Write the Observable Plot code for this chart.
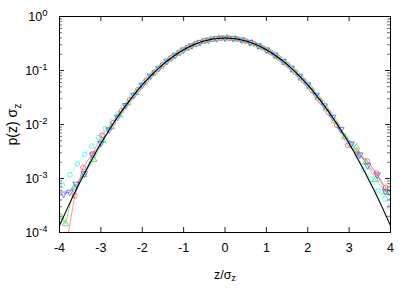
<!DOCTYPE html>
<html><head><meta charset="utf-8">
<script src="https://cdn.jsdelivr.net/npm/d3@7"></script>
<script src="https://cdn.jsdelivr.net/npm/@observablehq/plot@0.6"></script>
<style>body{margin:0;background:#fff}</style>
</head><body><div id="chart"></div>
<script>
// Gaussian reference curve (black)
const zCurve = [-4,-3.8,-3.6,-3.4,-3.2,-3,-2.8,-2.6,-2.4,-2.2,-2,-1.8,-1.6,-1.4,-1.2,-1,-0.8,-0.6,-0.4,-0.2,0,
  0.2,0.4,0.6,0.8,1,1.2,1.4,1.6,1.8,2,2.2,2.4,2.6,2.8,3,3.2,3.4,3.6,3.8,4];
const pCurve = [1.34e-4,2.92e-4,6.12e-4,1.23e-3,2.38e-3,4.43e-3,7.92e-3,0.0136,0.0224,0.0355,0.0540,0.0790,0.1109,0.1497,0.1942,0.2420,0.2897,0.3332,0.3683,0.3910,0.3989,
  0.3910,0.3683,0.3332,0.2897,0.2420,0.1942,0.1497,0.1109,0.0790,0.0540,0.0355,0.0224,0.0136,7.92e-3,4.43e-3,2.38e-3,1.23e-3,6.12e-4,2.92e-4,1.34e-4];

// red circles
const zRed = [-3.83,-3.63,-3.43,-3.2,-2.97,-2.7,-2.5,-2.3,-2.1,-1.9,-1.7,-1.5,-1.3,-1.1,-0.9,-0.7,-0.5,-0.3,-0.1,
  0.1,0.3,0.5,0.7,0.9,1.1,1.3,1.5,1.7,1.9,2.1,2.3,2.5,2.7,2.97,3.2,3.44,3.66,3.88,4.1];
const pRed = [6.3e-5,4.8e-4,1.6e-3,2.9e-3,6.3e-3,0.0108,0.0180,0.0290,0.0445,0.0660,0.0935,0.1300,0.1720,0.2175,0.2665,0.3120,0.3525,0.3810,0.3975,
  0.3965,0.3815,0.3520,0.3125,0.2660,0.2170,0.1710,0.1290,0.0935,0.0650,0.0430,0.0275,0.0168,0.0097,4.1e-3,2.95e-3,2.1e-3,1.26e-3,6.8e-4,5.5e-4];

// green triangles
const zGreen = [-3.97,-3.855,-3.64,-3.41,-3.17,-2.95,-2.75,-2.55,-2.35,-2.15,-1.95,-1.75,-1.55,-1.35,-1.15,-0.95,-0.75,-0.55,-0.35,-0.15,
  0.05,0.25,0.45,0.65,0.85,1.05,1.25,1.45,1.65,1.85,2.05,2.25,2.45,2.65,2.9,3.18,3.4,3.64,3.88,4.05];
const pGreen = [1.95e-4,1.45e-4,6.9e-4,1.17e-3,2.24e-3,5.0e-3,8.9e-3,0.0150,0.0250,0.0392,0.0600,0.0870,0.1190,0.1610,0.2050,0.2545,0.3000,0.3435,0.3745,0.3950,
  0.3980,0.3870,0.3600,0.3235,0.2770,0.2305,0.1820,0.1400,0.1015,0.0715,0.0495,0.0312,0.0195,0.0117,5.9e-3,3.8e-3,2.0e-3,9.5e-4,5.6e-4,4.5e-4];

// cyan circles
const zCyan = [-3.936,-3.75,-3.57,-3.39,-3.22,-3.05,-2.89,-2.73,-2.58,-2.45,-2.25,-2.05,-1.85,-1.65,-1.45,-1.25,-1.05,-0.85,-0.65,-0.45,-0.25,-0.05,
  0.15,0.35,0.55,0.75,0.95,1.15,1.35,1.55,1.75,1.95,2.15,2.35,2.55,2.75,3.05,3.2,3.35,3.52,3.7,3.87,3.99];
const pCyan = [7.6e-4,1.17e-3,1.86e-3,2.78e-3,3.98e-3,5.75e-3,8.3e-3,0.0115,0.0158,0.0205,0.0325,0.0495,0.0730,0.1030,0.1400,0.1830,0.2300,0.2785,0.3235,0.3610,0.3880,0.3995,
  0.3955,0.3760,0.3430,0.3015,0.2540,0.2055,0.1600,0.1195,0.0860,0.0595,0.0398,0.0255,0.0155,0.0091,4.3e-3,2.6e-3,1.45e-3,9.5e-4,5.9e-4,4.2e-4,2.95e-4];

// blue down-triangles
const zBlue = [-3.9,-3.75,-3.6,-3.4,-3.2,-3,-2.8,-2.6,-2.4,-2.2,-2,-1.8,-1.6,-1.4,-1.2,-1,-0.8,-0.6,-0.4,-0.2,0,
  0.2,0.4,0.6,0.8,1,1.2,1.4,1.6,1.8,2,2.2,2.4,2.6,2.8,3.05,3.26,3.45,3.68,3.88,4.05];
const pBlue = [5.2e-4,5.6e-4,7.9e-4,1.23e-3,2.75e-3,4.5e-3,0.0080,0.0137,0.0226,0.0352,0.0540,0.0795,0.1105,0.1500,0.1935,0.2425,0.2890,0.3340,0.3680,0.3915,0.3985,
  0.3905,0.3690,0.3325,0.2900,0.2415,0.1945,0.1490,0.1110,0.0785,0.0545,0.0350,0.0222,0.0137,0.0081,4.4e-3,2.75e-3,1.74e-3,1.17e-3,5.75e-4,5.5e-4];

const xTicks = [-4,-3,-2,-1,0,1,2,3,4];
const yTicks = [1e-4,1e-3,1e-2,1e-1,1];
const yTickExp = ["-4","-3","-2","-1","0"];
const xLabel = "z/σ_z";
const yLabel = "p(z) σ_z";

const W = 415, H = 291, mL = 59, mR = 25, mT = 16, mB = 59;
const iw = W - mL - mR, ih = H - mT - mB;

const yMinor = [];
for (let k = 0; k < yTicks.length - 1; k++) for (let m = 2; m <= 9; m++) yMinor.push(yTicks[k] * m);

const downTriangle = {
  draw(ctx, size) {
    const s = Math.sqrt(size * 4 / Math.sqrt(3)), h = s * Math.sqrt(3) / 2;
    ctx.moveTo(0, 2 * h / 3); ctx.lineTo(-s / 2, -h / 3); ctx.lineTo(s / 2, -h / 3); ctx.closePath();
  }
};

const rows = (z, p) => z.map((d, i) => ({z: d, p: p[i]}));
const series = [
  {data: rows(zCyan, pCyan), color: "#44eef2", symbol: "circle", dash: "1.5,1.5"},
  {data: rows(zGreen, pGreen), color: "#33dd33", symbol: "triangle", dash: null},
  {data: rows(zBlue, pBlue), color: "#4444ff", symbol: downTriangle, dash: "3,1.5"},
  {data: rows(zRed, pRed), color: "#ff4444", symbol: "circle", dash: null}
];
const curve = rows(zCurve, pCurve);

const marks = [];
for (const s of series) {
  marks.push(Plot.line(s.data, {x: "z", y: "p", stroke: s.color, strokeWidth: 0.6, strokeDasharray: s.dash, clip: true}));
}
for (const s of series) {
  marks.push(Plot.dot(s.data, {x: "z", y: "p", stroke: s.color, symbol: s.symbol, r: 2.4, strokeWidth: 0.7, fill: "none", clip: true}));
}
marks.push(Plot.line(curve, {x: "z", y: "p", stroke: "#000", strokeWidth: 1.1, curve: "natural", clip: true}));
// inward ticks on all four sides
marks.push(
  Plot.ruleX(xTicks, {x: d => d, insetTop: ih - 5, stroke: "#222", strokeWidth: 1}),
  Plot.ruleX(xTicks, {x: d => d, insetBottom: ih - 5, stroke: "#222", strokeWidth: 1}),
  Plot.ruleY(yTicks, {y: d => d, insetRight: iw - 5, stroke: "#222", strokeWidth: 1}),
  Plot.ruleY(yTicks, {y: d => d, insetLeft: iw - 5, stroke: "#222", strokeWidth: 1}),
  Plot.ruleY(yMinor, {y: d => d, insetRight: iw - 3, stroke: "#444", strokeWidth: 0.8}),
  Plot.ruleY(yMinor, {y: d => d, insetLeft: iw - 3, stroke: "#444", strokeWidth: 0.8}),
  Plot.frame({stroke: "#000", strokeWidth: 1}),
  Plot.axisX({ticks: xTicks, tickSize: 0, tickPadding: 11, tickFormat: d => String(d),
    label: xLabel, labelAnchor: "center", labelOffset: 46, labelArrow: "none"}),
  Plot.axisY({ticks: yTicks, tickSize: 0, tickPadding: 12,
    tickFormat: d => "10|" + yTickExp[yTicks.indexOf(d)],
    label: yLabel, labelAnchor: "center", labelOffset: 52, labelArrow: "none"})
);

const chart = Plot.plot({
  width: W, height: H,
  marginLeft: mL, marginRight: mR, marginTop: mT, marginBottom: mB,
  style: {fontFamily: "'Liberation Sans', Arial, sans-serif", fontSize: "12.5px", color: "#000", background: "#fff"},
  x: {domain: [-4, 4]},
  y: {type: "log", domain: [1e-4, 1]},
  marks
});

// superscripts and subscripts as real text
d3.select(chart).selectAll("text").each(function () {
  const t = d3.select(this);
  const txt = this.textContent;
  if (txt.includes("|")) {
    const [b, e] = txt.split("|");
    t.text(null);
    t.append("tspan").text(b);
    t.append("tspan").attr("dy", "-0.45em").attr("font-size", "9.5px").text(e);
  } else if (txt.includes("_")) {
    const [b, e] = txt.split("_");
    const big = txt.startsWith("p(");
    t.text(null);
    if (big) t.attr("font-size", "14px");
    t.append("tspan").text(b);
    t.append("tspan").attr("dy", "0.3em").attr("font-size", big ? "10.5px" : "9.5px").text(e);
  }
});
document.getElementById("chart").appendChild(chart);
</script>
</body></html>
